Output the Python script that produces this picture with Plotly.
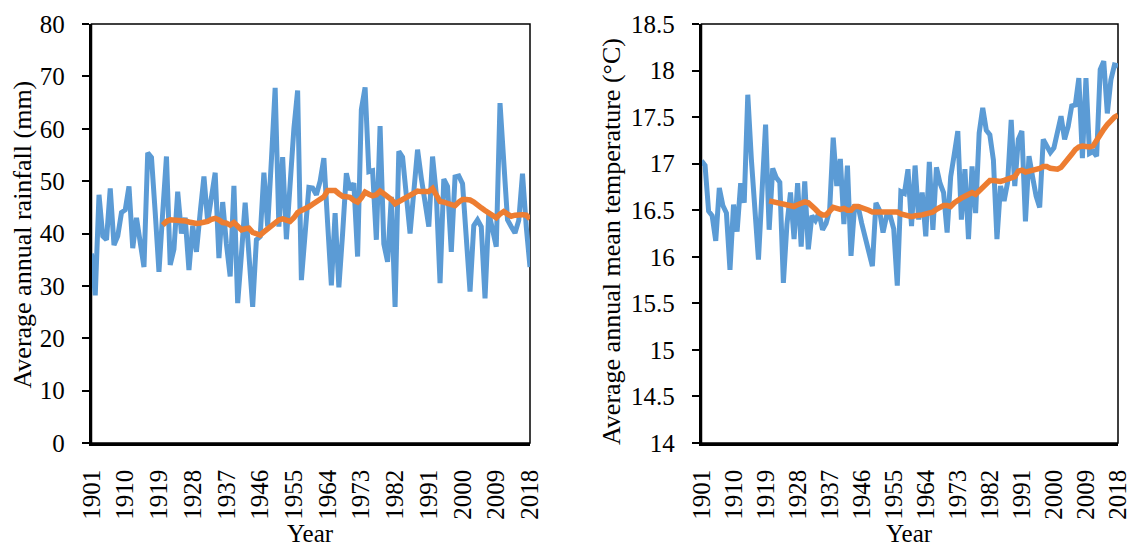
import plotly.graph_objects as go

# ---------------- data ----------------
years = list(range(1901, 2019))

rainfall = [
    36.2, 28.2, 47.4, 39.5, 38.8, 48.6, 37.8, 39.5, 44.0, 44.5,
    49.0, 37.2, 43.0, 38.0, 33.6, 55.4, 54.5, 44.0, 32.7, 44.0,
    54.7, 34.0, 37.0, 48.0, 40.0, 43.0, 33.0, 41.5, 36.5, 44.0,
    50.9, 42.2, 47.0, 51.6, 35.3, 46.0, 38.0, 31.8, 49.1, 26.7,
    36.0, 45.9, 36.0, 26.0, 38.8, 39.4, 51.6, 41.3, 54.0, 67.8,
    41.3, 54.6, 38.9, 50.0, 60.0, 67.3, 31.1, 40.0, 48.8, 48.7,
    47.4, 50.0, 54.4, 42.0, 30.1, 43.9, 29.7, 40.0, 51.5, 48.3,
    49.6, 35.6, 63.7, 67.9, 51.8, 52.0, 38.8, 60.5, 38.0, 34.6,
    47.0, 26.0, 55.7, 54.6, 47.0, 40.0, 48.0, 56.0, 50.6, 46.0,
    41.3, 54.7, 47.5, 30.5, 50.4, 49.0, 36.5, 50.8, 51.0, 49.5,
    40.0, 28.9, 41.5, 42.6, 41.3, 27.6, 44.0, 41.0, 37.5, 64.9,
    51.9, 42.6, 41.3, 40.1, 42.5, 51.4, 41.3, 33.6,
]

ma_years = list(range(1920, 2019))

rainfall_ma = [
    41.6, 42.3, 42.6, 42.6, 42.6, 42.6, 42.4, 42.2, 42.0, 41.9,
    42.0, 42.1, 42.3, 42.7, 42.9, 42.6, 42.1, 42.0, 41.6, 42.1,
    41.3, 40.7, 40.9, 41.0, 40.2, 39.8, 39.7, 40.3, 40.9, 41.7,
    42.3, 42.6, 42.8, 42.6, 42.3, 43.0, 44.0, 44.4, 44.7, 45.1,
    45.6, 46.1, 46.6, 47.0, 48.2, 48.3, 48.2, 47.6, 47.1, 47.0,
    46.9, 46.3, 46.0, 46.8, 47.9, 47.5, 47.2, 47.4, 48.1, 47.6,
    47.1, 46.5, 45.7, 46.1, 46.6, 46.9, 47.4, 47.7, 48.1, 48.0,
    48.0, 48.0, 48.6, 47.5, 46.1, 46.0, 45.8, 45.6, 45.3, 46.0,
    46.5, 46.5, 46.4, 46.0, 45.3, 44.9, 44.4, 44.0, 43.4, 43.0,
    43.7, 44.2, 43.7, 43.3, 43.5, 43.6, 43.6, 43.5, 42.8,
]

temperature = [
    17.03, 16.98, 16.49, 16.44, 16.17, 16.74, 16.55, 16.47, 15.86, 16.56,
    16.27, 16.79, 16.58, 17.74, 17.05, 16.45, 15.97, 16.70, 17.42, 16.29,
    16.95, 16.85, 16.80, 15.72, 16.35, 16.69, 16.19, 16.79, 16.11, 16.81,
    16.08, 16.44, 16.39, 16.47, 16.29, 16.36, 16.50, 17.28, 16.76, 17.05,
    16.35, 16.98, 16.01, 16.54, 16.54, 16.36, 16.20, 16.05, 15.90, 16.58,
    16.50, 16.26, 16.44, 16.44, 16.30, 15.69, 16.70, 16.68, 16.94, 16.33,
    16.98, 16.40, 16.69, 16.22, 17.02, 16.29, 16.96, 16.79, 16.69, 16.26,
    16.86, 17.10, 17.35, 16.40, 16.94, 16.19, 16.97, 16.47, 17.33, 17.60,
    17.36, 17.31, 17.04, 16.19, 16.76, 16.60, 16.80, 17.47, 16.76, 17.26,
    17.35, 16.38, 17.08, 16.86, 16.65, 16.53, 17.26, 17.19, 17.12, 17.17,
    17.35, 17.51, 17.26, 17.40, 17.62, 17.63, 17.92, 17.06, 17.92, 17.11,
    17.13, 17.08, 18.01, 18.10, 17.54, 17.90, 18.06, 18.05,
]

temperature_ma = [
    16.60, 16.59, 16.58, 16.58, 16.57, 16.56, 16.55, 16.54, 16.56, 16.57,
    16.59, 16.58, 16.55, 16.51, 16.47, 16.45, 16.45, 16.49, 16.53, 16.52,
    16.51, 16.52, 16.50, 16.50, 16.54, 16.54, 16.53, 16.52, 16.50, 16.48,
    16.48, 16.49, 16.49, 16.49, 16.49, 16.49, 16.48, 16.46, 16.45, 16.43,
    16.43, 16.44, 16.44, 16.45, 16.46, 16.47, 16.48, 16.51, 16.53, 16.55,
    16.55, 16.54, 16.58, 16.61, 16.63, 16.65, 16.67, 16.69, 16.67, 16.71,
    16.76, 16.79, 16.82, 16.82, 16.81, 16.81, 16.82, 16.83, 16.84, 16.86,
    16.92, 16.93, 16.91, 16.92, 16.92, 16.93, 16.95, 16.97, 16.97, 16.95,
    16.94, 16.94, 16.96, 17.00, 17.04, 17.10, 17.15, 17.18, 17.19, 17.18,
    17.18, 17.19, 17.26, 17.31, 17.37, 17.42, 17.47, 17.50, 17.52,
]

x_tick_years = list(range(1901, 2019, 9))
x_tick_labels = [str(y) for y in x_tick_years]

rain_ticks = [0, 10, 20, 30, 40, 50, 60, 70, 80]
rain_tick_labels = [str(v) for v in rain_ticks]
temp_ticks = [14, 14.5, 15, 15.5, 16, 16.5, 17, 17.5, 18, 18.5]
temp_tick_labels = ["14", "14.5", "15", "15.5", "16", "16.5", "17", "17.5", "18", "18.5"]

# ---------------- layout helpers ----------------
W, H = 1131, 548


def fx(p):
    return p / W


def fy(p):
    return 1 - p / H


FONT = "Liberation Serif, Times New Roman, serif"
BLUE = "#5B9BD5"
ORANGE = "#ED7D31"

fig = go.Figure()

fig.add_trace(go.Scatter(x=years, y=rainfall, mode="lines",
                         line=dict(color=BLUE, width=5),
                         xaxis="x", yaxis="y", showlegend=False))
fig.add_trace(go.Scatter(x=ma_years, y=rainfall_ma, mode="lines",
                         line=dict(color=ORANGE, width=5.5),
                         xaxis="x", yaxis="y", showlegend=False))
fig.add_trace(go.Scatter(x=years, y=temperature, mode="lines",
                         line=dict(color=BLUE, width=5),
                         xaxis="x2", yaxis="y2", showlegend=False))
fig.add_trace(go.Scatter(x=ma_years, y=temperature_ma, mode="lines",
                         line=dict(color=ORANGE, width=5.5),
                         xaxis="x2", yaxis="y2", showlegend=False))

common_x = dict(
    range=[1900.999, 2018.001], tickvals=x_tick_years, ticktext=x_tick_labels,
    tickangle=-90, showline=True, linecolor="black", linewidth=2.5,
    ticks="", showgrid=False, zeroline=False, automargin=False,
    tickfont=dict(family=FONT, size=25, color="black"),
    ticklabelstandoff=14, ticklabeloverflow="allow",
)
common_y = dict(
    showline=True, linecolor="black", linewidth=2.5,
    ticks="outside", ticklen=7, tickwidth=2, tickcolor="black",
    showgrid=False, zeroline=False, automargin=False,
    tickfont=dict(family=FONT, size=25, color="black"),
    ticklabelstandoff=12, ticklabeloverflow="allow",
)

y_dom = [fy(443), fy(24)]

fig.update_layout(
    template="none",
    width=W, height=H,
    margin=dict(l=0, r=0, t=0, b=0, pad=0),
    paper_bgcolor="white", plot_bgcolor="white",
    font=dict(family=FONT, color="black"),
    xaxis=dict(domain=[fx(91.5), fx(530)], anchor="y", **common_x),
    yaxis=dict(domain=y_dom, anchor="x", range=[0, 80],
               tickvals=rain_ticks, ticktext=rain_tick_labels, **common_y),
    xaxis2=dict(domain=[fx(701.5), fx(1118)], anchor="y2", **common_x),
    yaxis2=dict(domain=y_dom, anchor="x2", range=[14, 18.5],
                tickvals=temp_ticks, ticktext=temp_tick_labels, **common_y),
    shapes=[
        dict(type="rect", xref="x domain", yref="y domain", x0=0, x1=1, y0=0, y1=1,
             line=dict(color="black", width=1.5), layer="below"),
        dict(type="rect", xref="x2 domain", yref="y2 domain", x0=0, x1=1, y0=0, y1=1,
             line=dict(color="black", width=1.5), layer="below"),
    ],
    annotations=[
        dict(text="Average annual rainfall (mm)", x=fx(22), y=fy(234.5),
             xref="paper", yref="paper", showarrow=False, textangle=-90,
             xanchor="center", yanchor="middle", font=dict(family=FONT, size=26, color="black")),
        dict(text="Average annual mean temperature (°C)", x=fx(611.5), y=fy(241.5),
             xref="paper", yref="paper", showarrow=False, textangle=-90,
             xanchor="center", yanchor="middle", font=dict(family=FONT, size=26, color="black")),
        dict(text="Year", x=fx(310.75), y=fy(547.5), borderpad=0,
             xref="paper", yref="paper", showarrow=False,
             xanchor="center", yanchor="bottom", font=dict(family=FONT, size=25, color="black")),
        dict(text="Year", x=fx(909.75), y=fy(547.5), borderpad=0,
             xref="paper", yref="paper", showarrow=False,
             xanchor="center", yanchor="bottom", font=dict(family=FONT, size=25, color="black")),
    ],
)

fig.write_html(
    "out.html",
    config={"displayModeBar": False},
    post_script="document.body.style.margin='0';document.body.style.padding='0';"
                "document.documentElement.style.overflow='hidden';",
)
